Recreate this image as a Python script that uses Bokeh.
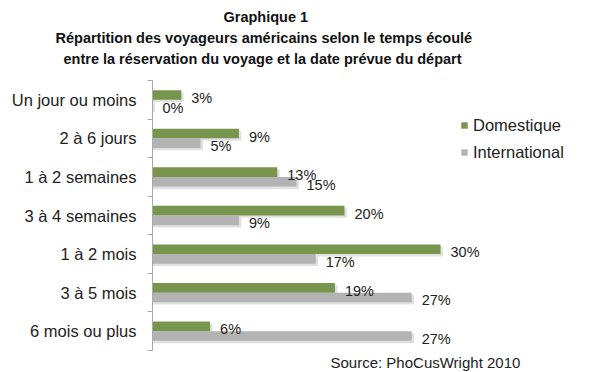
from bokeh.plotting import figure
from bokeh.models import (ColumnDataSource, Range1d, FixedTicker, Title, Legend, LegendItem)
from bokeh.transform import dodge
from bokeh.core.properties import value
from bokeh.embed import file_html
from bokeh.resources import INLINE

categories = ["Un jour ou moins", "2 à 6 jours", "1 à 2 semaines", "3 à 4 semaines",
              "1 à 2 mois", "3 à 5 mois", "6 mois ou plus"]
domestique = [3, 9, 13, 20, 30, 19, 6]
international = [0, 5, 15, 9, 17, 27, 27]
series_names = ["Domestique", "International"]
title_lines = ["Graphique 1",
               "Répartition des voyageurs américains selon le temps écoulé",
               "entre la réservation du voyage et la date prévue du départ"]
source_note = "Source: PhoCusWright 2010"

GREEN = "#77954d"
GREY = "#b3b3b3"
FONT = "Liberation Sans"

n = len(categories)
pos = [i + 0.5 for i in range(n)]
src = ColumnDataSource(dict(
    pos=pos,
    dom=domestique,
    intl=international,
    dom_sh=[v + 0.25 for v in domestique],
    intl_sh=[v + 0.25 for v in international],
    dom_lbl=[f"{v}%" for v in domestique],
    intl_lbl=[f"{v}%" for v in international],
))

p = figure(width=600, height=372, output_backend="svg", toolbar_location=None,
           x_range=Range1d(0, 45.83), y_range=Range1d(n, 0),
           min_border_left=152, min_border_right=8, min_border_top=80, min_border_bottom=22)
p.outline_line_color = None
p.xgrid.visible = False
p.ygrid.visible = False
p.xaxis.visible = False
p.background_fill_color = "white"
p.border_fill_color = "white"

BH = 0.25
# soft drop shadows
p.hbar(y=dodge("pos", -BH / 2 + 0.06, range=p.y_range), left=0, right="dom_sh", height=BH,
       source=src, fill_color="#000000", fill_alpha=0.12, line_color=None)
p.hbar(y=dodge("pos", BH / 2 + 0.06, range=p.y_range), left=0, right="intl_sh", height=BH,
       source=src, fill_color="#000000", fill_alpha=0.12, line_color=None)

r_dom = p.hbar(y=dodge("pos", -BH / 2, range=p.y_range), left=0, right="dom", height=BH,
               source=src, fill_color=GREEN, line_color=None)
r_int = p.hbar(y=dodge("pos", BH / 2, range=p.y_range), left=0, right="intl", height=BH,
               source=src, fill_color=GREY, line_color=None)

p.text(x="dom", y=dodge("pos", -BH / 2, range=p.y_range), text="dom_lbl", source=src,
       x_offset=10, y_offset=3, text_font=value(FONT), text_font_size="14.5px",
       text_color="#222222", text_baseline="middle", text_align="left")
p.text(x="intl", y=dodge("pos", BH / 2, range=p.y_range), text="intl_lbl", source=src,
       x_offset=10, y_offset=3, text_font=value(FONT), text_font_size="14.5px",
       text_color="#222222", text_baseline="middle", text_align="left")

ax = p.yaxis[0]
ax.ticker = FixedTicker(ticks=pos, minor_ticks=list(range(n + 1)))
ax.major_label_overrides = {pv: c for pv, c in zip(pos, categories)}
ax.major_tick_in = 0
ax.major_tick_out = 0
ax.minor_tick_in = 0
ax.minor_tick_out = 5
ax.minor_tick_line_color = "#aaaaaa"
ax.axis_line_color = "#aaaaaa"
ax.major_label_standoff = 11
ax.major_label_text_font = FONT
ax.major_label_text_font_size = "16.5px"
ax.major_label_text_color = "#222222"

legend = Legend(items=[LegendItem(label=series_names[0], renderers=[r_dom]),
                       LegendItem(label=series_names[1], renderers=[r_int])],
                location=(308, 188), padding=0, margin=0, spacing=7,
                glyph_width=8, glyph_height=8, label_standoff=5, label_height=20,
                label_text_font=FONT, label_text_font_size="16.5px", label_text_color="#222222",
                border_line_color=None, background_fill_alpha=0)
p.add_layout(legend)

# spacer between the frame and the title block (first added sits nearest the frame)
p.add_layout(Title(text=" ", standoff=11, text_font_size="1px"), "above")
# title lines, from the bottom one upward
for txt, so, off in zip(reversed(title_lines), [0, 6, 0], [-89, -97, 71]):
    p.add_layout(Title(text=txt, align="left", standoff=so, offset=off,
                       text_font=FONT, text_font_size="14.5px", text_font_style="bold",
                       text_color="#111111"), "above")

p.add_layout(Title(text=source_note, align="left", offset=178, standoff=2,
                   text_font=FONT, text_font_size="15px", text_font_style="normal",
                   text_color="#222222"), "below")

open("out.html", "w").write(file_html(p, INLINE))
